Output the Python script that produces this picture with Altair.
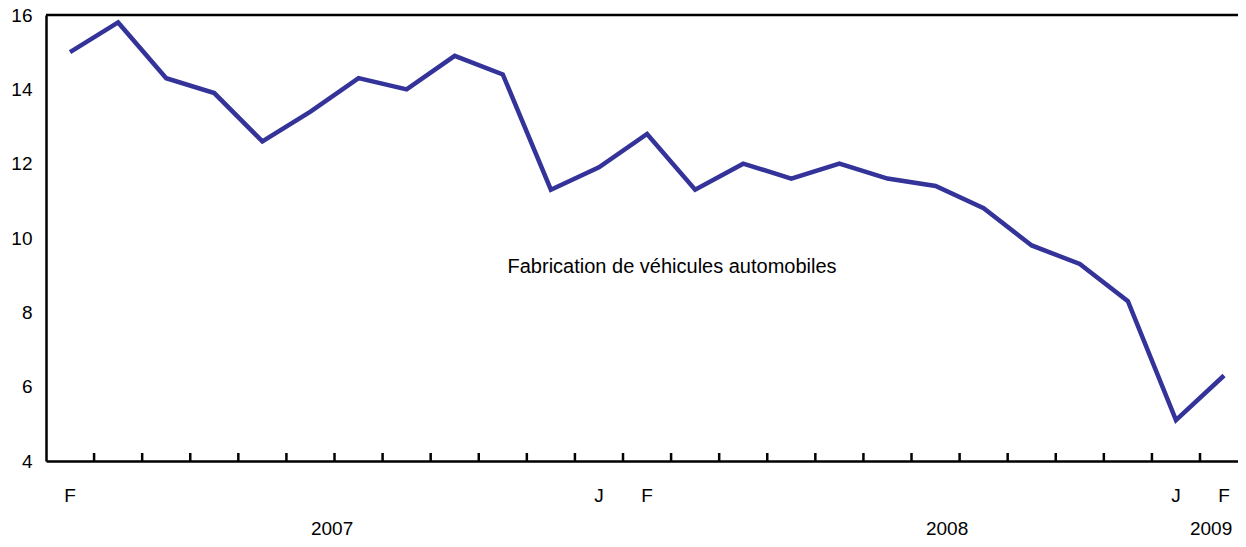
import altair as alt
import pandas as pd

# ---- data ----
periods = list(range(25))  # Feb 2007 .. Feb 2009
values = [15.0, 15.8, 14.3, 13.9, 12.6, 13.4, 14.3, 14.0, 14.9, 14.4,
          11.3, 11.9, 12.8, 11.3, 12.0, 11.6, 12.0, 11.6, 11.4, 10.8,
          9.8, 9.3, 8.3, 5.1, 6.3]
month_labels = ["F", "J", "F", "J", "F"]
month_label_pos = [0, 11, 12, 23, 24]
year_labels = ["2007", "2008", "2009"]
year_label_pos = [5.45, 18.24, 23.73]
tick_pos = [k + 0.5 for k in range(24)]
y_ticks = [4, 6, 8, 10, 12, 14, 16]
note_text = ["Fabrication de véhicules automobiles"]
note_x = [12.52]
note_y = [9.07]

df = pd.DataFrame({"p": periods, "v": values})
df_m = pd.DataFrame({"p": month_label_pos, "t": month_labels})
df_y = pd.DataFrame({"p": year_label_pos, "t": year_labels})
df_t = pd.DataFrame({"p": tick_pos})
df_n = pd.DataFrame({"p": note_x, "v": note_y, "t": note_text})

FONT = "Liberation Sans"
H = 446
xscale = alt.Scale(domain=[-0.5, 24.29], nice=False, zero=False)
yscale = alt.Scale(domain=[4, 16], nice=False, zero=False)
xaxis = alt.Axis(values=[], labels=False, ticks=False, grid=False, title=None,
                 domain=True, domainColor="black", domainWidth=2.5)
yaxis = alt.Axis(values=y_ticks, ticks=False, grid=False, title=None,
                 domain=True, domainColor="black", domainWidth=2.5,
                 labelFont=FONT, labelFontSize=19, labelColor="black",
                 labelPadding=14)

line = alt.Chart(df).mark_line(color="#333399", strokeWidth=4.5).encode(
    x=alt.X("p:Q", scale=xscale, axis=xaxis),
    y=alt.Y("v:Q", scale=yscale, axis=yaxis),
)

ticks = alt.Chart(df_t).mark_rule(color="black", strokeWidth=2.5).encode(
    x=alt.X("p:Q", scale=xscale, axis=xaxis),
    y=alt.value(H - 8),
    y2=alt.value(H),
)

top = alt.Chart(pd.DataFrame({"v": [16]})).mark_rule(color="black", strokeWidth=2.5).encode(
    y=alt.Y("v:Q", scale=yscale, axis=yaxis),
)

mlab = alt.Chart(df_m).mark_text(font=FONT, fontSize=19, color="black",
                                 align="center", baseline="alphabetic").encode(
    x=alt.X("p:Q", scale=xscale, axis=xaxis),
    y=alt.value(486.5),
    text="t:N",
)

ylab = alt.Chart(df_y).mark_text(font=FONT, fontSize=19, color="black",
                                 align="center", baseline="alphabetic").encode(
    x=alt.X("p:Q", scale=xscale, axis=xaxis),
    y=alt.value(520),
    text="t:N",
)

note = alt.Chart(df_n).mark_text(font=FONT, fontSize=20, color="black",
                                 align="center", baseline="alphabetic").encode(
    x=alt.X("p:Q", scale=xscale, axis=xaxis),
    y=alt.Y("v:Q", scale=yscale, axis=yaxis),
    text="t:N",
)

chart = alt.layer(line, ticks, top, mlab, ylab, note).properties(
    width=1192, height=H,
    autosize=alt.AutoSizeParams(type="none"),
    padding={"left": 38, "top": 7, "right": 0, "bottom": 78},
).configure_view(stroke=None).configure(background="white")

chart.save("out.html", embed_options={"renderer": "svg", "actions": False})
